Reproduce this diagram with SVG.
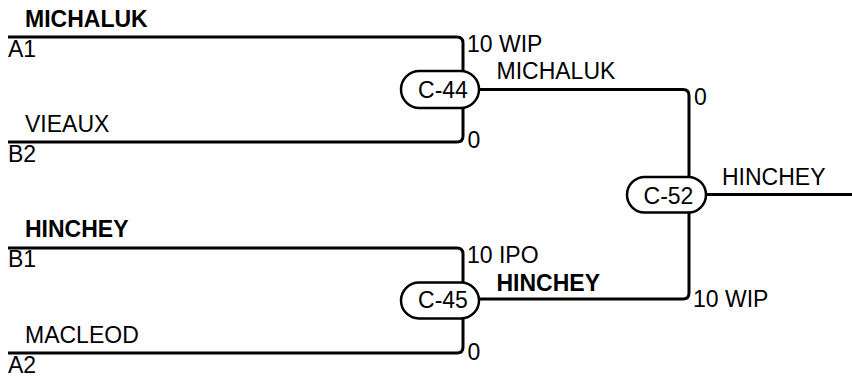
<svg xmlns="http://www.w3.org/2000/svg" width="852" height="377" viewBox="0 0 852 377">
<style>
text{font-family:"Liberation Sans",Arial,sans-serif;font-size:23px;fill:#000}
.b{font-weight:bold}
.m{text-anchor:middle}
.ln{fill:none;stroke:#000;stroke-width:3}
.pill{fill:#fff;stroke:#000;stroke-width:2.5}
</style>
<rect width="852" height="377" fill="#fff"/>
<g id="connectors">
<path class="ln" d="M8,37 H457 Q463,37 463,43 V89"/>
<path class="ln" d="M8,142 H457 Q463,142 463,136 V89"/>
<path class="ln" d="M479,89.5 H683 Q689,89.5 689,95.5 V194"/>
<path class="ln" d="M8,248 H457 Q463,248 463,254 V300"/>
<path class="ln" d="M8,353 H457 Q463,353 463,347 V300"/>
<path class="ln" d="M479,299 H683 Q689,299 689,293 V194"/>
<path class="ln" d="M706,194.5 H852"/>
</g>
<g id="slots">
<text class="b" x="25" y="26.5">MICHALUK</text>
<text x="8" y="56.5">A1</text>
<text x="25" y="131.5">VIEAUX</text>
<text x="8" y="161.5">B2</text>
<text class="b" x="25" y="236.5">HINCHEY</text>
<text x="8" y="266.5">B1</text>
<text x="25" y="343">MACLEOD</text>
<text x="8" y="373">A2</text>
</g>
<g id="C-44">
<rect class="pill" x="401" y="71" width="78" height="37" rx="18.5"/>
<text class="m" x="443" y="97.5">C-44</text>
<text x="467" y="51.5">10 WIP</text>
<text x="467.5" y="147.5">0</text>
<text x="496.5" y="79">MICHALUK</text>
</g>
<g id="C-45">
<rect class="pill" x="401" y="282.5" width="78" height="36" rx="18"/>
<text class="m" x="443" y="308">C-45</text>
<text x="467" y="263">10 IPO</text>
<text x="467.5" y="360">0</text>
<text class="b" x="496.5" y="291">HINCHEY</text>
</g>
<g id="C-52">
<rect class="pill" x="627" y="177" width="79" height="35.5" rx="17.75"/>
<text class="m" x="668.5" y="204">C-52</text>
<text x="694" y="104.5">0</text>
<text x="693" y="306.5">10 WIP</text>
<text x="722" y="185">HINCHEY</text>
</g>
</svg>
